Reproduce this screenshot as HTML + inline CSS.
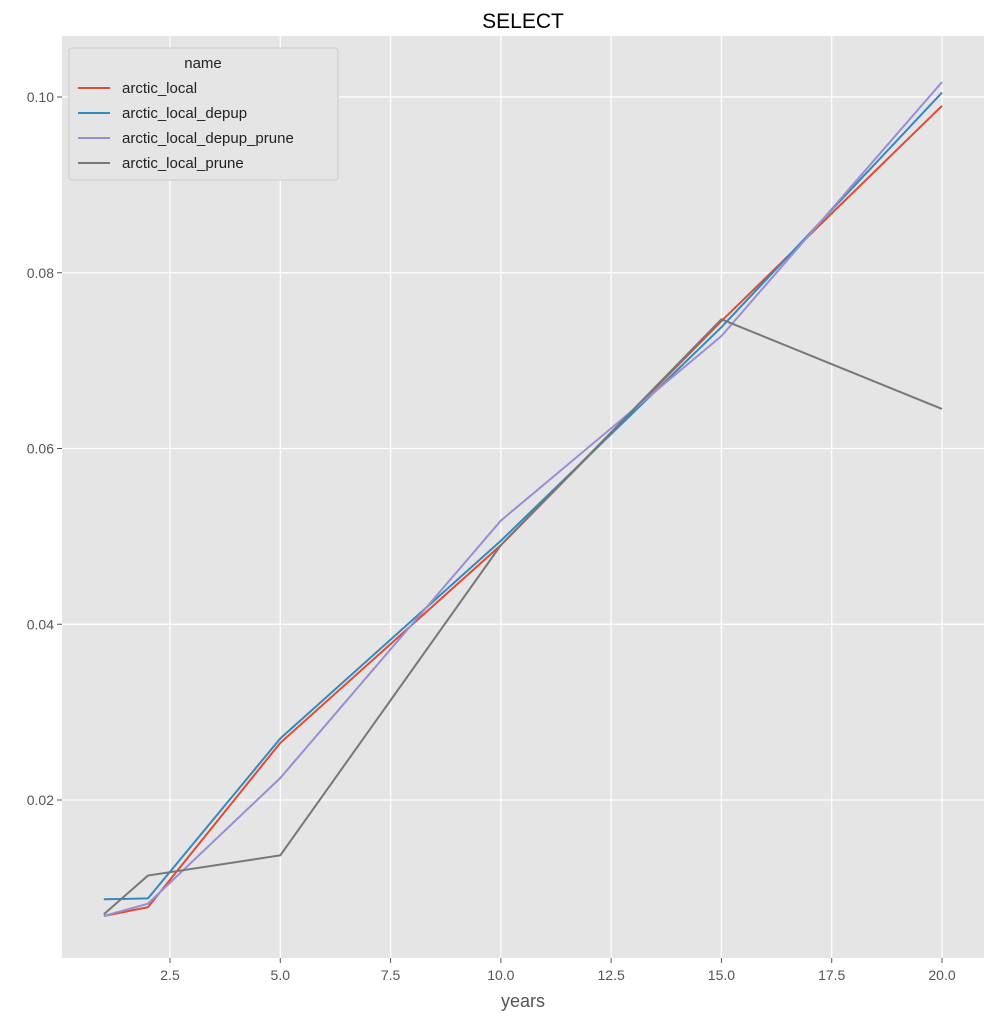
<!DOCTYPE html>
<html><head><meta charset="utf-8"><style>
body{margin:0;background:#fff;font-family:"Liberation Sans","DejaVu Sans",sans-serif;}
svg text{font-family:"Liberation Sans","DejaVu Sans",sans-serif;}
</style></head><body>
<svg id="chart" width="996" height="1024" xmlns="http://www.w3.org/2000/svg">
<rect x="0" y="0" width="996" height="1024" fill="#fff"/>
<rect x="62" y="36" width="922" height="922" fill="#e5e5e5"/>
<g id="grid"></g><g id="ticks"></g><g id="lines"></g>
<text x="523" y="28" font-size="21" text-anchor="middle" fill="#000">SELECT</text>
<text x="523" y="1007" font-size="18" text-anchor="middle" fill="#555">years</text>
<g id="legend"></g>
</svg>
<script>
const years=[1,2,5,10,15,20];
const seriesNames=["arctic_local","arctic_local_depup","arctic_local_depup_prune","arctic_local_prune"];
const arcticLocal=[0.0068,0.0078,0.0265,0.049,0.0745,0.099];
const arcticLocalDepup=[0.0087,0.0088,0.027,0.0495,0.0738,0.1005];
const arcticLocalDepupPrune=[0.0068,0.0082,0.0225,0.0518,0.0728,0.1017];
const arcticLocalPrune=[0.007,0.0114,0.0137,0.049,0.0747,0.0645];
const xTicks=[2.5,5.0,7.5,10.0,12.5,15.0,17.5,20.0];
const yTicks=[0.02,0.04,0.06,0.08,0.10];
const colors=["#e24a33","#348abd","#988ed5","#777777"];
const NS="http://www.w3.org/2000/svg";
function xs(v){return 170+(v-2.5)*(942-170)/17.5;}
function ys(v){return 97+(0.10-v)*(800-97)/0.08;}
function mk(t,a,p){const e=document.createElementNS(NS,t);for(const k in a)e.setAttribute(k,a[k]);p.appendChild(e);return e;}
const grid=document.getElementById('grid'),ticks=document.getElementById('ticks');
xTicks.forEach(t=>{const x=xs(t);
const g=mk('line',{x1:x,x2:x,y1:36,y2:958,stroke:'#fff','stroke-width':1.2},grid);


const tk=mk('line',{x1:x,x2:x,y1:958,y2:963,stroke:'#555'},ticks);


const l=mk('text',{x:x,y:980,'font-size':14,'text-anchor':'middle',fill:'#555'},ticks);l.textContent=t.toFixed(1);

});
yTicks.forEach(t=>{const y=ys(t);
const g=mk('line',{x1:62,x2:984,y1:y,y2:y,stroke:'#fff','stroke-width':1.2},grid);


const tk=mk('line',{x1:57,x2:62,y1:y,y2:y,stroke:'#555'},ticks);


const l=mk('text',{x:54,y:y+5,'font-size':14,'text-anchor':'end',fill:'#555'},ticks);l.textContent=t.toFixed(2);

});
const all=[arcticLocal,arcticLocalDepup,arcticLocalDepupPrune,arcticLocalPrune];
const lines=document.getElementById('lines');
all.forEach((s,i)=>{const p=mk('polyline',{points:s.map((v,j)=>xs(years[j])+','+ys(v)).join(' '),fill:'none',stroke:colors[i],'stroke-width':2},lines);

});
const lg=document.getElementById('legend');
mk('rect',{x:69,y:48,width:269,height:132,fill:'#e5e5e5',stroke:'#ccc',rx:3},lg);
const lt=mk('text',{x:203,y:68,'font-size':15,'text-anchor':'middle',fill:'#222'},lg);lt.textContent='name';


seriesNames.forEach((n,i)=>{const y=88+i*25;
const g=mk('g',{},lg);


mk('line',{x1:78,x2:110,y1:y,y2:y,stroke:colors[i],'stroke-width':2},g);
const t=mk('text',{x:122,y:y+5,'font-size':15,fill:'#222'},g);t.textContent=n;});
</script>
</body></html>
